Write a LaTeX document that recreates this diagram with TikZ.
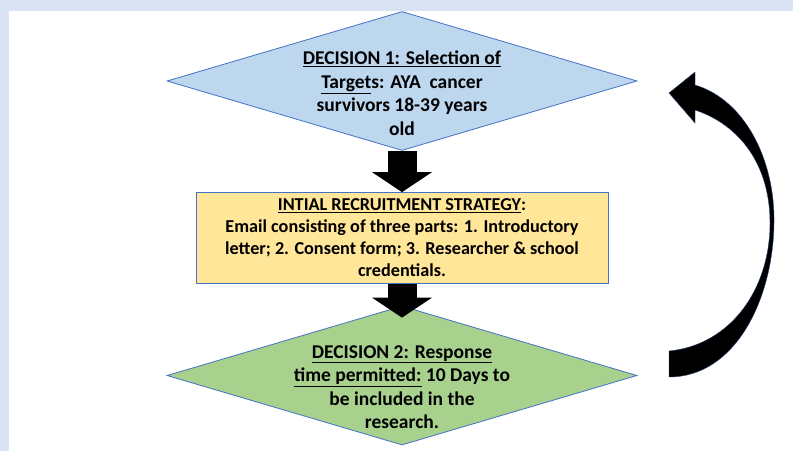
\documentclass[tikz,border=0pt]{standalone}
\usepackage{fontspec}
\setmainfont{Carlito}
\usetikzlibrary{arrows.meta, shapes.geometric}
\definecolor{cBg}    {HTML}{DAE3F3}
\definecolor{cEdge}  {HTML}{4472C4}
\definecolor{cBlue}  {HTML}{BDD7EE}
\definecolor{cYellow}{HTML}{FFE699}
\definecolor{cGreen} {HTML}{A9D18E}

\begin{document}
\begin{tikzpicture}[x=1pt, y=-1pt,
      decision/.style = {diamond, draw=cEdge, line width=0.8pt, inner sep=0pt, minimum width=470pt, minimum height=139pt},
      strategy/.style = {rectangle, draw=cEdge, fill=cYellow, line width=0.8pt, inner sep=0pt, minimum width=412pt, minimum height=91pt, align=center, font=\fontsize{18.2}{22}\selectfont\bfseries},
      txt/.style      = {align=center, inner sep=0pt, font=\fontsize{19.5}{23.5}\selectfont\bfseries},
      down/.style     = {line width=29pt, draw=black, -{Triangle[length=20pt, width=60pt, line width=0pt]}} ]
    \useasboundingbox (0,0) rectangle (793,451);
    \fill[cBg]   (0,0) rectangle (793,451);
    \fill[white] (9,11) rectangle (793,451);

    \node[decision, fill=cBlue]  (d1) at (402,81) {};
    \node[txt] (d1t) at (402,93)
      {\underline{DECISION 1: Selection of}\\\underline{Target}s: AYA\ \ cancer\\survivors 18-39 years\\old};
    \node[strategy] (strat) at (402,238)
      {\underline{INTIAL RECRUITMENT STRATEGY}:\\Email consisting of three parts: 1. Introductory\\letter; 2. Consent form; 3. Researcher \& school\\credentials.};
    \node[decision, fill=cGreen] (d2) at (402,375.5) {};
    \node[txt] (d2t) at (402,387)
      {\underline{DECISION 2: Response}\\\underline{time permitted:} 10 Days to\\be included in the\\research.};

    \draw[down] (d1) -- (strat);
    \draw[down, shorten >=-12pt] (strat) -- (d2);

    % loop back from decision 2 to decision 1
    \coordinate (loopHead) at (669,93);
    \filldraw[fill=black, draw=cEdge!60!black, line width=0.4pt]
      (loopHead) -- (695,72) -- (695,85)
      .. controls (745,100) and (775,160) .. (774,223)
      .. controls (773,300) and (735,377) .. (669,377)
      -- (669,351)
      .. controls (730,345) and (770,290) .. (770,223)
      .. controls (770,165) and (740,125) .. (695,110)
      -- (695,123) -- cycle;
  \end{tikzpicture}
\end{document}
